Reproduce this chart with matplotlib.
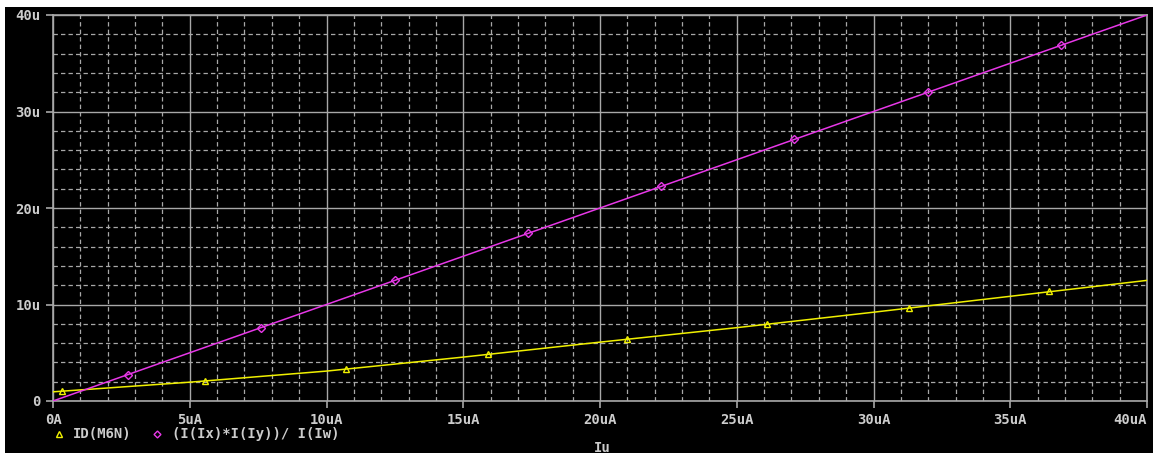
import matplotlib
matplotlib.use("Agg")
import matplotlib.pyplot as plt
from matplotlib.patches import Rectangle
from matplotlib.ticker import MultipleLocator

# sweep of Iu (uA) and the two traces (uA)
iu = [0, 5, 10, 15, 20, 25, 30, 35, 40]
id_m6n = [0.95, 1.95, 3.1, 4.55, 6.1, 7.6, 9.2, 10.85, 12.5]
ratio = [0, 5, 10, 15, 20, 25, 30, 35, 40]

# symbol positions along each trace
id_mark_x = [0.33, 5.56, 10.7, 15.9, 21.0, 26.1, 31.3, 36.4]
id_mark_y = [1.04, 2.07, 3.3, 4.85, 6.4, 7.95, 9.6, 11.35]
ratio_mark_x = [2.74, 7.61, 12.49, 17.36, 22.23, 27.11, 31.98, 36.85]
ratio_mark_y = [2.74, 7.61, 12.49, 17.36, 22.23, 27.11, 31.98, 36.85]

x_ticks = [0, 5, 10, 15, 20, 25, 30, 35, 40]
x_labels = ["0A", "5uA", "10uA", "15uA", "20uA", "25uA", "30uA", "35uA", "40uA"]
y_ticks = [0, 10, 20, 30, 40]
y_labels = ["0", "10u", "20u", "30u", "40u"]

W, H = 1153, 453
GRID = "#a8a8a8"
TXT = "#cccccc"
YEL = "#f0f000"
MAG = "#e838e8"
MONO = "DejaVu Sans Mono"

fig = plt.figure(figsize=(W / 100, H / 100), dpi=100, facecolor="white")
# black screen area, leaving the thin white frame at top and left
fig.add_artist(Rectangle((5 / W, 0), 1, (H - 7) / H, transform=fig.transFigure,
                         facecolor="black", edgecolor="none", zorder=-5))

x0, x1, y0, y1 = 53, 1147, 15, 401
ax = fig.add_axes([x0 / W, (H - y1) / H, (x1 - x0) / W, (y1 - y0) / H])
ax.set_facecolor("black")
ax.set_xlim(0, 40)
ax.set_ylim(0, 40)

ax.xaxis.set_major_locator(MultipleLocator(5))
ax.xaxis.set_minor_locator(MultipleLocator(1))
ax.yaxis.set_major_locator(MultipleLocator(10))
ax.yaxis.set_minor_locator(MultipleLocator(2))
ax.grid(which="major", color=GRID, lw=1.0, ls="-")
ax.grid(which="minor", color=GRID, lw=0.9, ls=(0, (3.5, 2.5)))
ax.set_axisbelow(True)
for s in ax.spines.values():
    s.set_color(GRID)
    s.set_linewidth(1.2)

ax.set_xticks(x_ticks)
ax.set_xticklabels(x_labels)
ax.set_yticks(y_ticks)
ax.set_yticklabels(y_labels)
ax.tick_params(which="major", colors=GRID, length=5, width=1.2, labelcolor=TXT,
               labelsize=10, pad=4)
ax.tick_params(which="minor", length=0)
for lab in ax.get_xticklabels() + ax.get_yticklabels():
    lab.set_family(MONO)
    lab.set_fontweight("bold")
ax.get_xticklabels()[-1].set_horizontalalignment("right")

ax.plot(iu, id_m6n, color=YEL, lw=1.1, zorder=3)
ax.plot(iu, ratio, color=MAG, lw=1.1, zorder=3)
ax.plot(id_mark_x, id_mark_y, ls="none", marker="^", ms=5, mfc="none", mec=YEL,
        mew=1.0, zorder=4)
ax.plot(ratio_mark_x, ratio_mark_y, ls="none", marker="D", ms=4, mfc="none", mec=MAG,
        mew=1.0, zorder=4)

# legend row and x-axis name under the plot
fy = 1 - 434 / H
fig.lines.append(plt.Line2D([59 / W], [fy], transform=fig.transFigure, ls="none",
                            marker="^", ms=4.5, mfc="none", mec=YEL, mew=1.0))
fig.text(73 / W, fy, "ID(M6N)", color=TXT, family=MONO, fontweight="bold",
         fontsize=10, va="center", ha="left")
fig.lines.append(plt.Line2D([157 / W], [fy], transform=fig.transFigure, ls="none",
                            marker="D", ms=3.5, mfc="none", mec=MAG, mew=1.0))
fig.text(172 / W, fy, "(I(Ix)*I(Iy))/ I(Iw)", color=TXT, family=MONO,
         fontweight="bold", fontsize=10, va="center", ha="left")
fig.text(602 / W, 1 - 448 / H, "Iu", color=TXT, family=MONO, fontweight="bold",
         fontsize=10, va="center", ha="center")

fig.savefig("out.png", dpi=100, facecolor="white")
